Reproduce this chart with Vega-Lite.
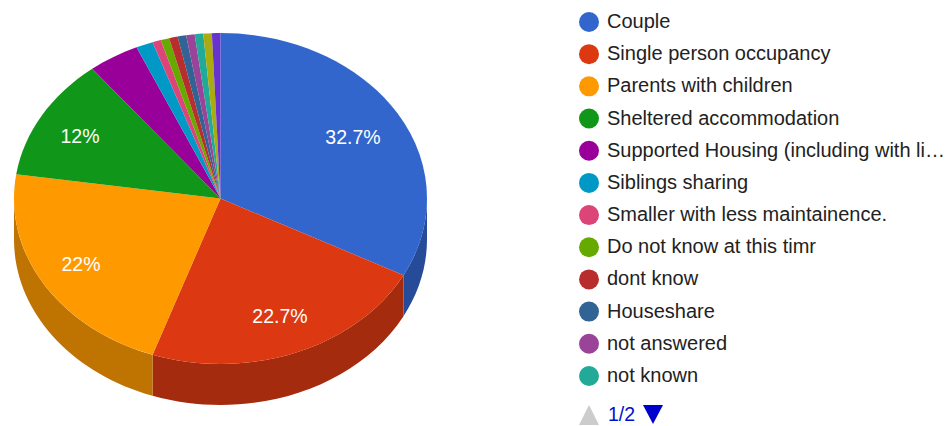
{
"$schema":"https://vega.github.io/schema/vega-lite/v6.json",
"width":952,"height":426,"padding":0,"autosize":{"type":"none"},
"background":"white",
"config":{"view":{"stroke":null},"font":"Liberation Sans"},
"data":{"values":[
{"status":"Couple","share":0.3267},
{"status":"Single person occupancy","share":0.2267},
{"status":"Parents with children","share":0.22},
{"status":"Sheltered accommodation","share":0.12},
{"status":"Supported Housing (including with li…","share":0.04},
{"status":"Siblings sharing","share":0.0133},
{"status":"Smaller with less maintainence.","share":0.0067},
{"status":"Do not know at this timr","share":0.0067},
{"status":"dont know","share":0.0067},
{"status":"Houseshare","share":0.0067},
{"status":"not answered","share":0.0067},
{"status":"not known","share":0.0067},
{"status":"(legend page 2, entry 1)","share":0.0067},
{"status":"(legend page 2, entry 2)","share":0.0067}
]},
"layer":[
{"transform":[{"filter":"datum.share > 0.2"}],
 "mark":{"type":"point","filled":true,"size":4,"opacity":1,"strokeWidth":0},
 "encoding":{
  "fill":{"field":"status","type":"nominal","legend":null,"scale":{
    "domain":["Couple","Single person occupancy","Parents with children"],
    "range":["#264c99","#a52b0e","#bf7300"]}},
  "shape":{"field":"status","type":"nominal","legend":null,"scale":{
    "domain":["Couple","Single person occupancy","Parents with children"],
    "range":[
    "M-49,-14.5 A206.5,165.5 0 0 1 -72.5,62.18 L-72.5,103.18 A206.5,165.5 0 0 0 -49,26.5 Z",
    "M-72.5,62.18 A206.5,165.5 0 0 1 -323.41,141.79 L-323.41,182.79 A206.5,165.5 0 0 0 -72.5,103.18 Z",
    "M-323.41,141.79 A206.5,165.5 0 0 1 -462,-14.5 L-462,26.5 A206.5,165.5 0 0 0 -323.41,182.79 Z"]}}
 }},
{"mark":{"type":"point","filled":true,"size":4,"opacity":1,"strokeWidth":0},
 "encoding":{
  "fill":{"field":"status","type":"nominal","legend":null,"scale":{
    "domain":["Couple","Single person occupancy","Parents with children","Sheltered accommodation","Supported Housing (including with li…","Siblings sharing","Smaller with less maintainence.","Do not know at this timr","dont know","Houseshare","not answered","not known","(legend page 2, entry 1)","(legend page 2, entry 2)"],
    "range":["#3366cc","#dc3912","#ff9900","#109618","#990099","#0099c6","#dd4477","#66aa00","#b82e2e","#316395","#994499","#22aa99","#aaaa11","#6633cc"]}},
  "shape":{"field":"status","type":"nominal","legend":null,"scale":{
    "domain":["Couple","Single person occupancy","Parents with children","Sheltered accommodation","Supported Housing (including with li…","Siblings sharing","Smaller with less maintainence.","Do not know at this timr","dont know","Houseshare","not answered","not known","(legend page 2, entry 1)","(legend page 2, entry 2)"],
    "range":[
    "M-255.5,-14.5 L-255.5,-180 A206.5,165.5 0 0 1 -72.5,62.18 Z",
    "M-255.5,-14.5 L-72.5,62.18 A206.5,165.5 0 0 1 -323.41,141.79 Z",
    "M-255.5,-14.5 L-323.41,141.79 A206.5,165.5 0 0 1 -459.78,-38.68 Z",
    "M-255.5,-14.5 L-459.78,-38.68 A206.5,165.5 0 0 1 -383.77,-144.2 Z",
    "M-255.5,-14.5 L-383.77,-144.2 A206.5,165.5 0 0 1 -339.49,-165.69 Z",
    "M-255.5,-14.5 L-339.49,-165.69 A206.5,165.5 0 0 1 -323.41,-170.79 Z",
    "M-255.5,-14.5 L-323.41,-170.79 A206.5,165.5 0 0 1 -315.19,-172.94 Z",
    "M-255.5,-14.5 L-315.19,-172.94 A206.5,165.5 0 0 1 -306.86,-174.8 Z",
    "M-255.5,-14.5 L-306.86,-174.8 A206.5,165.5 0 0 1 -298.43,-176.38 Z",
    "M-255.5,-14.5 L-298.43,-176.38 A206.5,165.5 0 0 1 -289.94,-177.68 Z",
    "M-255.5,-14.5 L-289.94,-177.68 A206.5,165.5 0 0 1 -281.38,-178.69 Z",
    "M-255.5,-14.5 L-281.38,-178.69 A206.5,165.5 0 0 1 -272.78,-179.42 Z",
    "M-255.5,-14.5 L-272.78,-179.42 A206.5,165.5 0 0 1 -264.15,-179.85 Z",
    "M-255.5,-14.5 L-264.15,-179.85 A206.5,165.5 0 0 1 -255.5,-180 Z"]}}
 }},
{"mark":{"type":"point","filled":true,"size":0,"opacity":1,"strokeWidth":0},
 "encoding":{
  "color":{"field":"status","type":"nominal","scale":{
    "domain":["Couple","Single person occupancy","Parents with children","Sheltered accommodation","Supported Housing (including with li…","Siblings sharing","Smaller with less maintainence.","Do not know at this timr","dont know","Houseshare","not answered","not known","(legend page 2, entry 1)","(legend page 2, entry 2)"],
    "range":["#3366cc","#dc3912","#ff9900","#109618","#990099","#0099c6","#dd4477","#66aa00","#b82e2e","#316395","#994499","#22aa99","#aaaa11","#6633cc"]},
   "legend":{"title":null,"orient":"none","legendX":579,"legendY":12,"symbolType":"circle","symbolSize":400,"symbolStrokeWidth":0,"symbolOpacity":1,"rowPadding":12.18,"labelOffset":8,"labelFontSize":20,"labelColor":"#222222","labelFont":"Liberation Sans","labelLimit":400,"padding":0,
     "values":["Couple","Single person occupancy","Parents with children","Sheltered accommodation","Supported Housing (including with li…","Siblings sharing","Smaller with less maintainence.","Do not know at this timr","dont know","Houseshare","not answered","not known"]}}
 }},
{"transform":[{"filter":"datum.status === 'Couple'"}],
 "mark":{"type":"text","color":"white","fontSize":19.5,"font":"Liberation Sans","dx":-123,"dy":-75},
 "encoding":{"text":{"field":"share","type":"quantitative","format":".3~p"}}},
{"transform":[{"filter":"datum.status === 'Single person occupancy'"}],
 "mark":{"type":"text","color":"white","fontSize":19.5,"font":"Liberation Sans","dx":-196,"dy":104},
 "encoding":{"text":{"field":"share","type":"quantitative","format":".3~p"}}},
{"transform":[{"filter":"datum.status === 'Parents with children'"}],
 "mark":{"type":"text","color":"white","fontSize":19.5,"font":"Liberation Sans","dx":-395,"dy":52},
 "encoding":{"text":{"field":"share","type":"quantitative","format":".3~p"}}},
{"transform":[{"filter":"datum.status === 'Sheltered accommodation'"}],
 "mark":{"type":"text","color":"white","fontSize":19.5,"font":"Liberation Sans","dx":-396,"dy":-76},
 "encoding":{"text":{"field":"share","type":"quantitative","format":".3~p"}}},
{"data":{"values":[{"page":"1/2"}]},
 "mark":{"type":"point","filled":true,"size":4,"opacity":1,"strokeWidth":0,"color":"#cccccc","shape":"M103,212 L113,192 L123,212 Z"}},
{"data":{"values":[{"page":"1/2"}]},
 "mark":{"type":"point","filled":true,"size":4,"opacity":1,"strokeWidth":0,"color":"#0000cc","shape":"M167,192 L187,192 L177,211 Z"}},
{"data":{"values":[{"page":"1/2"}]},
 "mark":{"type":"text","color":"#0011cc","fontSize":19.5,"font":"Liberation Sans","align":"left","dx":132,"dy":202},
 "encoding":{"text":{"field":"page","type":"nominal"}}}
],
"resolve":{"scale":{"shape":"independent","fill":"independent","color":"independent"}}
}
